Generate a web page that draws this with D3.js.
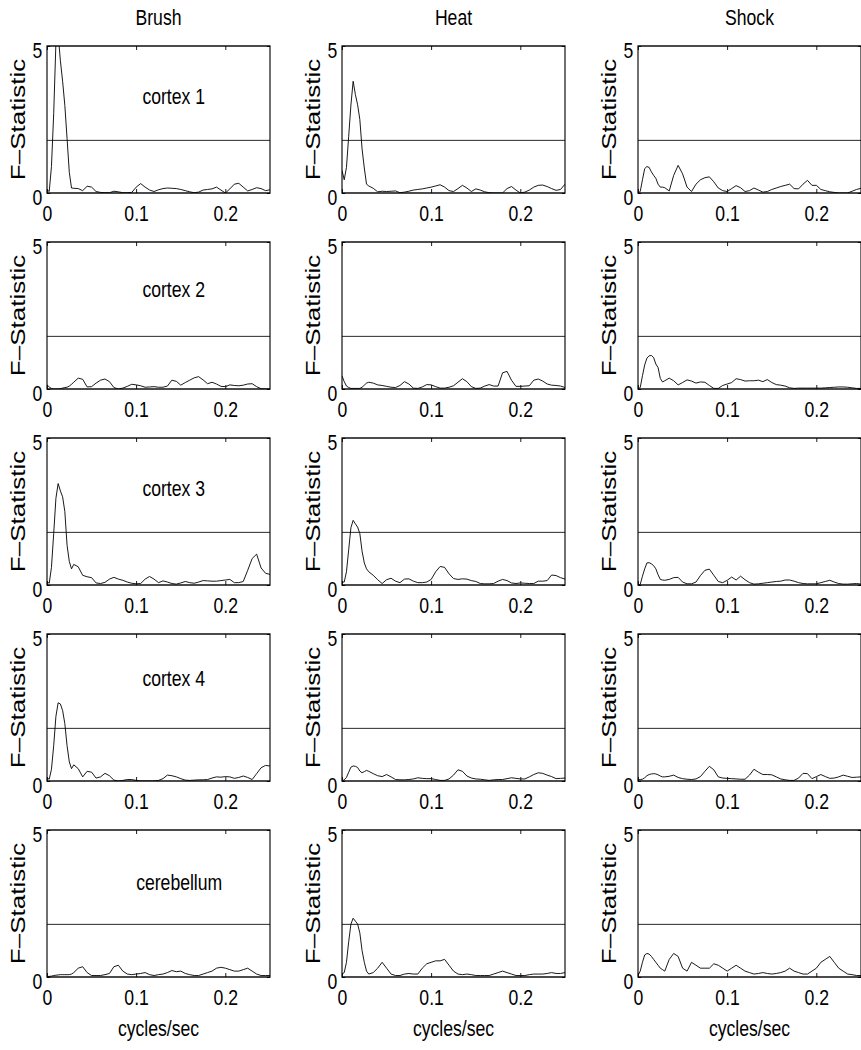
<!DOCTYPE html>
<html>
<head>
<meta charset="utf-8">
<script src="https://cdn.jsdelivr.net/npm/d3@7"></script>
<style>
  body { margin: 0; background: #fff; }
  svg { display: block; }
  text { font-family: "Liberation Sans", Arial, Helvetica, sans-serif; fill: #000; }
</style>
</head>
<body>
<svg id="chart" width="861" height="1050"></svg>
<script>
// ---------------- data ----------------
const conditions = ["Brush", "Heat", "Shock"];
const regions = ["cortex 1", "cortex 2", "cortex 3", "cortex 4", "cerebellum"];
const xTicks = [0, 0.1, 0.2];
const yTicks = [0, 5];
const threshold = 1.79;
const freq = [0, 0.0025, 0.005, 0.0075, 0.01, 0.0125, 0.015, 0.0175, 0.02, 0.0225, 0.025, 0.0275, 0.03,
  0.035, 0.04, 0.045, 0.05, 0.055, 0.06, 0.065, 0.07, 0.075, 0.08,
  0.085, 0.09, 0.095, 0.10, 0.105, 0.11, 0.115, 0.12, 0.125, 0.13,
  0.135, 0.14, 0.145, 0.15, 0.155, 0.16, 0.165, 0.17, 0.175, 0.18,
  0.185, 0.19, 0.195, 0.20, 0.205, 0.21, 0.215, 0.22, 0.225, 0.23,
  0.235, 0.24, 0.245, 0.25];

const brushCortex1 = [0.11,0.05,0.9,2.7,5.1,5.4,4.5,3.8,2.98,1.85,0.7,0.17,0.16,
  0.15,0.08,0.23,0.2,0.05,0.02,0.01,0.01,0.06,0.04,
  0.01,0.01,0.02,0.2,0.32,0.2,0.1,0.05,0.11,0.15,
  0.17,0.16,0.15,0.12,0.08,0.04,0.01,0.03,0.1,0.12,
  0.14,0.2,0.1,0.0,0.14,0.3,0.33,0.2,0.07,0.12,
  0.18,0.15,0.08,0.11];
const heatCortex1 = [0.77,0.45,0.87,1.93,2.99,3.8,3.35,3.0,2.5,1.5,0.85,0.3,0.24,
  0.16,0.04,0.06,0.05,0.06,0.07,0.01,0.03,0.06,0.1,
  0.12,0.14,0.17,0.2,0.24,0.28,0.2,0.08,0.05,0.15,
  0.26,0.17,0.05,0.14,0.1,0.04,0.01,0.0,0.0,0.0,
  0.15,0.22,0.1,0.0,0.03,0.1,0.2,0.26,0.27,0.22,
  0.15,0.09,0.12,0.3];
const shockCortex1 = [0,0.05,0.45,0.83,0.9,0.87,0.72,0.6,0.5,0.3,0.2,0.2,0.18,
  0.07,0.6,0.94,0.65,0.2,0.05,0.3,0.45,0.52,0.55,
  0.38,0.17,0.08,0.05,0.15,0.25,0.18,0.05,0.08,0.17,
  0.1,0.03,0.05,0.12,0.17,0.22,0.26,0.3,0.15,0.14,
  0.3,0.43,0.26,0.26,0.12,0.08,0.04,0.02,0,0,
  0,0.06,0.12,0.16];

const brushCortex2 = [0.14,0.07,0.02,0,0,0,0.01,0.03,0.05,0.06,0.1,0.16,0.23,
  0.37,0.33,0.07,0.08,0.2,0.3,0.34,0.25,0.05,0,
  0.03,0.09,0.16,0.14,0.11,0.06,0.07,0.08,0.06,0.06,
  0.1,0.3,0.26,0.13,0.22,0.3,0.38,0.42,0.31,0.18,
  0.23,0.17,0.09,0.08,0.14,0.12,0.11,0.13,0.17,0.18,
  0.08,0.01,0,0];
const heatCortex2 = [0.45,0.25,0.1,0.05,0.02,0.02,0.02,0.02,0.02,0.06,0.13,0.2,0.23,
  0.2,0.14,0.12,0.09,0.06,0.05,0.12,0.25,0.17,0.03,
  0.02,0.07,0.15,0.14,0.08,0.03,0.03,0.06,0.11,0.23,
  0.35,0.25,0.08,0.02,0.03,0.1,0.15,0.1,0.1,0.55,
  0.6,0.3,0.09,0.09,0.1,0.11,0.3,0.34,0.27,0.17,
  0.13,0.12,0.1,0.05];
const shockCortex2 = [0,0.05,0.45,0.82,1.05,1.13,1.14,1.07,0.85,0.73,0.36,0.24,0.28,
  0.37,0.28,0.14,0.22,0.31,0.27,0.2,0.24,0.23,0.12,
  0.02,0.02,0.12,0.17,0.22,0.35,0.32,0.27,0.28,0.28,
  0.3,0.25,0.32,0.22,0.15,0.13,0.1,0.04,0.02,0.03,
  0.03,0.03,0.03,0.03,0.03,0.04,0.05,0.06,0.07,0.07,
  0.06,0.04,0.02,0.02];

const brushCortex3 = [0.11,0.06,0.6,1.75,2.95,3.45,3.2,3.0,2.5,1.35,0.8,0.55,0.7,
  0.62,0.33,0.28,0.25,0.07,0.05,0.09,0.2,0.26,0.2,
  0.16,0.1,0.06,0.04,0.05,0.2,0.29,0.2,0.08,0.14,
  0.1,0.05,0.03,0.07,0.12,0.08,0.06,0.1,0.15,0.14,
  0.13,0.13,0.15,0.17,0.19,0.08,0.08,0.12,0.5,0.9,
  1.05,0.58,0.4,0.36];
const heatCortex3 = [0.1,0.1,0.45,1.2,1.95,2.2,2.08,1.97,1.75,1.15,0.75,0.55,0.45,
  0.33,0.18,0.05,0.18,0.23,0.13,0.08,0.2,0.21,0.13,
  0.08,0.08,0.1,0.19,0.45,0.63,0.6,0.38,0.22,0.19,
  0.21,0.2,0.15,0.12,0.05,0.04,0.04,0.05,0.13,0.19,
  0.15,0.07,0.05,0.07,0.06,0.05,0.05,0.13,0.13,0.15,
  0.34,0.32,0.25,0.2];
const shockCortex3 = [0,0.02,0.3,0.55,0.75,0.76,0.72,0.66,0.55,0.35,0.19,0.17,0.16,
  0.19,0.25,0.26,0.1,0.04,0.04,0.1,0.32,0.5,0.54,
  0.33,0.12,0.08,0.16,0.27,0.17,0.3,0.18,0.08,0.03,
  0.04,0.06,0.08,0.1,0.12,0.13,0.17,0.17,0.13,0.08,
  0.05,0.04,0.04,0.04,0.08,0.12,0.16,0.1,0.05,0.03,
  0.03,0.04,0.05,0.03];

const brushCortex4 = [0.11,0.06,0.4,1.2,2.2,2.66,2.62,2.4,1.95,1.2,0.65,0.42,0.55,
  0.42,0.14,0.33,0.3,0.1,0.14,0.26,0.18,0.03,0,
  0.02,0.05,0.05,0.02,0,0,0,0,0.02,0.08,
  0.2,0.18,0.14,0.08,0.03,0.02,0.03,0.04,0.04,0.05,
  0.1,0.14,0.13,0.15,0.14,0.09,0.12,0.17,0.12,0.05,
  0.25,0.45,0.53,0.51];
const heatCortex4 = [0,0.04,0.12,0.3,0.47,0.51,0.5,0.46,0.34,0.28,0.32,0.36,0.33,
  0.25,0.18,0.15,0.22,0.14,0.05,0.04,0.04,0.05,0.07,
  0.11,0.09,0.08,0.08,0.05,0.02,0.02,0.07,0.2,0.38,
  0.33,0.17,0.1,0.07,0.06,0.04,0.02,0.04,0.05,0.05,
  0.08,0.11,0.09,0.07,0.07,0.14,0.22,0.28,0.26,0.2,
  0.15,0.08,0.09,0.1];
const shockCortex4 = [0.04,0.05,0.06,0.11,0.18,0.22,0.24,0.25,0.24,0.21,0.17,0.14,0.14,
  0.16,0.2,0.12,0.08,0.06,0.05,0.07,0.15,0.33,0.5,
  0.38,0.14,0.1,0.09,0.08,0.07,0.06,0.06,0.2,0.4,
  0.3,0.22,0.22,0.21,0.14,0.07,0.04,0.02,0.02,0.1,
  0.26,0.25,0.08,0.15,0.22,0.15,0.09,0.1,0.14,0.2,
  0.16,0.12,0.13,0.14];

const brushCerebellum = [0.02,0.02,0.03,0.05,0.06,0.07,0.08,0.08,0.08,0.08,0.08,0.1,0.15,
  0.3,0.35,0.15,0.05,0.05,0.05,0.08,0.12,0.35,0.4,
  0.2,0.1,0.08,0.1,0.12,0.15,0.08,0.05,0.08,0.1,
  0.15,0.22,0.18,0.2,0.12,0.08,0.05,0.05,0.1,0.15,
  0.2,0.3,0.33,0.3,0.25,0.2,0.2,0.25,0.3,0.2,
  0.1,0.05,0.05,0.05];
const heatCerebellum = [0.1,0.15,0.5,1.2,1.8,2.0,1.9,1.8,1.5,0.9,0.5,0.2,0.1,
  0.15,0.3,0.5,0.3,0.1,0.05,0.05,0.1,0.12,0.1,
  0.1,0.3,0.45,0.5,0.55,0.55,0.6,0.4,0.2,0.1,
  0.08,0.1,0.08,0.05,0.05,0.05,0.05,0.1,0.15,0.2,
  0.15,0.1,0.05,0.05,0.05,0.08,0.1,0.1,0.1,0.12,
  0.15,0.12,0.12,0.15];
const shockCerebellum = [0.05,0.2,0.5,0.75,0.8,0.78,0.7,0.6,0.5,0.4,0.3,0.25,0.2,
  0.6,0.8,0.7,0.3,0.2,0.5,0.4,0.3,0.3,0.3,
  0.45,0.4,0.3,0.2,0.3,0.4,0.3,0.2,0.15,0.1,
  0.12,0.15,0.12,0.1,0.12,0.15,0.2,0.3,0.2,0.15,
  0.1,0.1,0.2,0.3,0.5,0.6,0.7,0.5,0.3,0.2,
  0.1,0.08,0.05,0.05];

const series = [
  [brushCortex1, heatCortex1, shockCortex1],
  [brushCortex2, heatCortex2, shockCortex2],
  [brushCortex3, heatCortex3, shockCortex3],
  [brushCortex4, heatCortex4, shockCortex4],
  [brushCerebellum, heatCerebellum, shockCerebellum]
];

// ---------------- layout ----------------
const W = 861, H = 1050, SX = 0.8;          // figure is horizontally condensed
const LW = W / SX;
const colLeft = [47, 342, 638].map(v => v / SX);
const colWidth = 223 / SX;
const rowTop = [46, 242, 438, 634, 830];
const rowHeight = 147;
const labelPos = [[0.107, 3.03], [0.107, 3.12], [0.107, 3.04], [0.107, 3.24], [0.1, 2.96]];
const FS = 22;

const svg = d3.select("#chart")
  .attr("viewBox", `0 0 ${LW} ${H}`)
  .attr("preserveAspectRatio", "none");
const defs = svg.append("defs");

conditions.forEach((cond, c) => {
  svg.append("text")
    .attr("x", colLeft[c] + colWidth / 2)
    .attr("y", 25)
    .attr("text-anchor", "middle")
    .style("font-size", FS + "px")
    .text(cond);
});

regions.forEach((region, r) => {
  conditions.forEach((cond, c) => {
    const x = d3.scaleLinear().domain([0, 0.25]).range([colLeft[c], colLeft[c] + colWidth]);
    const y = d3.scaleLinear().domain([0, 5]).range([rowTop[r] + rowHeight, rowTop[r]]);
    const g = svg.append("g");
    const id = `clip-${r}-${c}`;
    defs.append("clipPath").attr("id", id).append("rect")
      .attr("x", x(0)).attr("y", y(5))
      .attr("width", x(0.25) - x(0)).attr("height", y(0) - y(5));

    // threshold line
    g.append("line")
      .attr("x1", x(0)).attr("x2", x(0.25))
      .attr("y1", y(threshold)).attr("y2", y(threshold))
      .attr("stroke", "#111").attr("stroke-width", 1);

    // F-statistic curve
    const line = d3.line().x((d, i) => x(freq[i])).y(d => y(d));
    g.append("path")
      .datum(series[r][c])
      .attr("d", line)
      .attr("clip-path", `url(#${id})`)
      .attr("fill", "none")
      .attr("stroke", "#000")
      .attr("stroke-width", 1)
      .attr("stroke-linejoin", "round");

    // axes
    const bottom = g.append("g").attr("transform", `translate(0,${y(0)})`)
      .call(d3.axisBottom(x).tickValues(xTicks).tickSize(-4).tickPadding(12.4)
        .tickFormat(d3.format("~g")));
    const top = g.append("g").attr("transform", `translate(0,${y(5)})`)
      .call(d3.axisTop(x).tickValues(xTicks).tickSize(-4).tickFormat(""));
    const left = g.append("g").attr("transform", `translate(${x(0)},0)`)
      .call(d3.axisLeft(y).tickValues(yTicks).tickSize(-4).tickPadding(6)
        .tickFormat(d3.format("d")));
    const right = g.append("g").attr("transform", `translate(${x(0.25)},0)`)
      .call(d3.axisRight(y).tickValues(yTicks).tickSize(-4).tickFormat(""));
    [bottom, top, left, right].forEach(a => {
      a.select(".domain").remove();
      a.selectAll(".tick line").attr("stroke", "#000");
      a.selectAll("text").style("font-size", FS + "px")
        .style("font-family", '"Liberation Sans", Arial, sans-serif').attr("fill", "#000");
    });
    left.selectAll("text").attr("dy", "0.5em");

    // box
    g.append("rect")
      .attr("x", x(0)).attr("y", y(5))
      .attr("width", x(0.25) - x(0)).attr("height", y(0) - y(5))
      .attr("fill", "none").attr("stroke", "#000").attr("stroke-width", 1.4);

    // y label
    g.append("text")
      .attr("transform", `translate(${x(0) - 36.9},${(y(0) + y(5)) / 2}) rotate(-90)`)
      .attr("text-anchor", "middle")
      .attr("dominant-baseline", "central")
      .style("font-size", "26px")
      .text("F\u2013Statistic");

    // region label
    if (c === 0) {
      g.append("text")
        .attr("x", x(labelPos[r][0]))
        .attr("y", y(labelPos[r][1]))
        .style("font-size", FS + "px")
        .text(region);
    }

    // x label
    if (r === regions.length - 1) {
      g.append("text")
        .attr("x", (x(0) + x(0.25)) / 2)
        .attr("y", 1036)
        .attr("text-anchor", "middle")
        .style("font-size", FS + "px")
        .text("cycles/sec");
    }
  });
});
</script>
</body>
</html>
